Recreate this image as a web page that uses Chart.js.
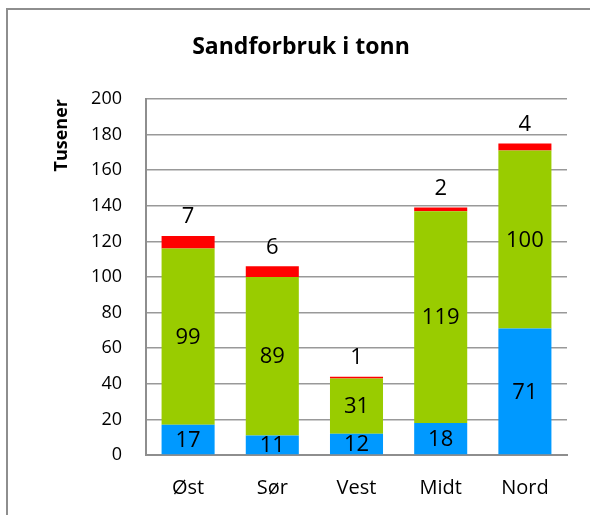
<!DOCTYPE html>
<html lang="no">
  <head>
    <meta charset="utf-8" />
    <title>Sandforbruk i tonn</title>
    <style>
      * {
        margin: 0;
        padding: 0;
      }
      body {
        width: 590px;
        height: 515px;
        background: #fff;
        position: relative;
        overflow: hidden;
      }
      .frame {
        position: absolute;
        left: 6px;
        top: 8px;
        width: 620px;
        height: 600px;
        border: 2px solid #8e8e8e;
      }
      #myChart {
        position: absolute;
        left: 0;
        top: 0;
      }
    </style>
  </head>
  <body>
    <div class="frame"></div>
    <canvas id="myChart" width="590" height="515"></canvas>

    <script src="https://cdn.jsdelivr.net/npm/chart.js@4.4.1/dist/chart.umd.min.js"></script>

    <script>
      // data block
      const categories = ["Øst", "Sør", "Vest", "Midt", "Nord"];
      const blueValues = [17, 11, 12, 18, 71];
      const greenValues = [99, 89, 31, 119, 100];
      const redValues = [7, 6, 1, 2, 4];
      const yMax = 200;
      const yStep = 20;

      const fontFamily = "'Open Sans', sans-serif";

      // value labels: middle of blue/green segments, above the red one
      const barLabels = {
        id: "barLabels",
        afterDatasetsDraw(chart) {
          const { ctx, data } = chart;
          ctx.save();
          ctx.font = "22px " + fontFamily;
          ctx.fillStyle = "#000";
          ctx.textAlign = "center";
          ctx.textBaseline = "middle";
          data.datasets.forEach((ds, i) => {
            chart.getDatasetMeta(i).data.forEach((bar, j) => {
              const v = ds.data[j];
              const y = ds.labelOnTop ? bar.y - 19 : (bar.y + bar.base) / 2 + 1;
              ctx.fillText(String(v), bar.x, y);
            });
          });
          ctx.restore();
        },
      };

      const config = {
        type: "bar",
        data: {
          labels: categories,
          datasets: [
            {
              label: "blå",
              data: blueValues,
              backgroundColor: "#0099ff",
            },
            {
              label: "grønn",
              data: greenValues,
              backgroundColor: "#99cc00",
            },
            {
              label: "rød",
              data: redValues,
              backgroundColor: "#ff0000",
              labelOnTop: true,
            },
          ],
        },
        options: {
          responsive: false,
          animation: false,
          layout: {
            padding: { top: 34, left: 35, right: 23, bottom: 0 },
          },
          datasets: {
            bar: {
              barPercentage: 0.63,
              categoryPercentage: 1,
            },
          },
          plugins: {
            legend: { display: false },
            tooltip: { enabled: false },
            title: {
              display: true,
              text: "Sandforbruk i tonn",
              color: "#000",
              font: { family: fontFamily, size: 23, weight: "bold", lineHeight: 1.2 },
              padding: { top: 0, bottom: 37.4 },
            },
          },
          scales: {
            x: {
              stacked: true,
              grid: { display: false, drawTicks: false },
              border: { color: "#8e8e8e", width: 2 },
              ticks: {
                color: "#000",
                padding: 21,
                font: { family: fontFamily, size: 20 },
              },
              afterFit(scale) {
                scale.height = 60;
              },
            },
            y: {
              stacked: true,
              min: 0,
              max: yMax,
              grid: { color: "#999", lineWidth: 1.5, drawTicks: false },
              border: { color: "#8e8e8e", width: 2 },
              ticks: {
                stepSize: yStep,
                color: "#000",
                padding: 24,
                font: { family: fontFamily, size: 18 },
              },
              title: {
                display: true,
                text: "Tusener",
                align: "end",
                color: "#000",
                font: { family: fontFamily, size: 18, weight: "bold", lineHeight: 1.2 },
                padding: { top: 16, bottom: 0 },
              },
              afterFit(scale) {
                scale.width = 111;
              },
            },
          },
        },
        plugins: [barLabels],
      };

      const myChart = new Chart(document.getElementById("myChart"), config);
    </script>
  </body>
</html>
